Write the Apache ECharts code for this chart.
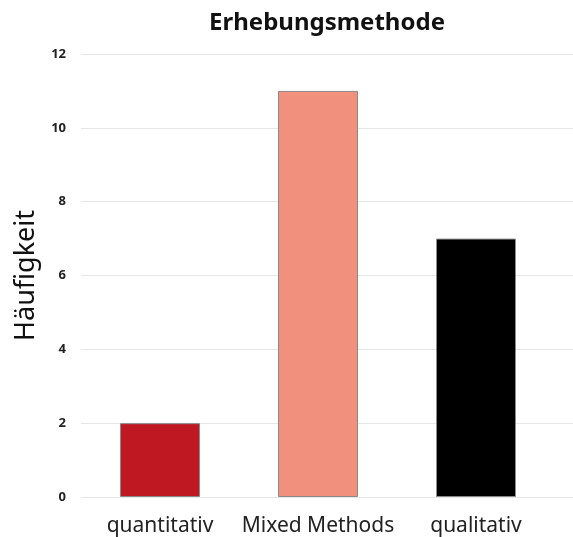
<!DOCTYPE html>
<html>
<head>
<meta charset="utf-8">
<script src="https://cdn.jsdelivr.net/npm/echarts@6/dist/echarts.min.js"></script>
<style>html,body{margin:0;padding:0;background:#fff}#c{width:573px;height:537px}</style>
</head>
<body>
<div id="c"></div>
<script>
const categories = ['quantitativ', 'Mixed Methods', 'qualitativ'];
const values = [2, 11, 7];
const barColors = ['#c01823', '#f0907d', '#000000'];
const yTicks = [0, 2, 4, 6, 8, 10, 12];

const chart = echarts.init(document.getElementById('c'), null, {renderer: 'canvas'});
const font = 'Noto Sans';
chart.setOption({
  animation: false,
  title: {
    text: 'Erhebungsmethode', left: 322, top: 6, textAlign: 'center',
    textStyle: {fontFamily: font, fontSize: 24, fontWeight: 'bold', color: '#111'}
  },
  grid: [
    {left: 81, right: 18, top: 54, bottom: 40},
    {left: 81, right: 0, top: 54, bottom: 40}
  ],
  xAxis: [
    {type: 'category', gridIndex: 0, data: categories,
     axisLine: {show: false}, axisTick: {show: false},
     axisLabel: {interval: 0, fontFamily: font, fontSize: 21, color: '#222', margin: 19}},
    {type: 'category', gridIndex: 1, data: categories, show: false}
  ],
  yAxis: [
    {type: 'value', gridIndex: 0, min: yTicks[0], max: yTicks[yTicks.length-1], interval: 2,
     name: 'Häufigkeit', nameLocation: 'middle', nameGap: 40, nameRotate: 90,
     nameTextStyle: {fontFamily: font, fontSize: 27, color: '#111'},
     axisLine: {show: false}, axisTick: {show: false},
     axisLabel: {fontFamily: font, fontSize: 13, fontWeight: 'bold', color: '#222', margin: 15},
     splitLine: {show: false}},
    {type: 'value', gridIndex: 1, min: yTicks[0], max: yTicks[yTicks.length-1], interval: 2,
     axisLine: {show: false}, axisTick: {show: false}, axisLabel: {show: false},
     splitLine: {show: true, lineStyle: {color: '#e6e6e6', width: 1}}}
  ],
  series: [{
    type: 'bar', xAxisIndex: 0, yAxisIndex: 0, barWidth: 80,
    data: values.map((v, i) => ({value: v, itemStyle: {color: barColors[i]}})),
    itemStyle: {borderColor: '#8a8a8a', borderWidth: 1},
    z: 3
  }]
});
</script>
</body>
</html>
